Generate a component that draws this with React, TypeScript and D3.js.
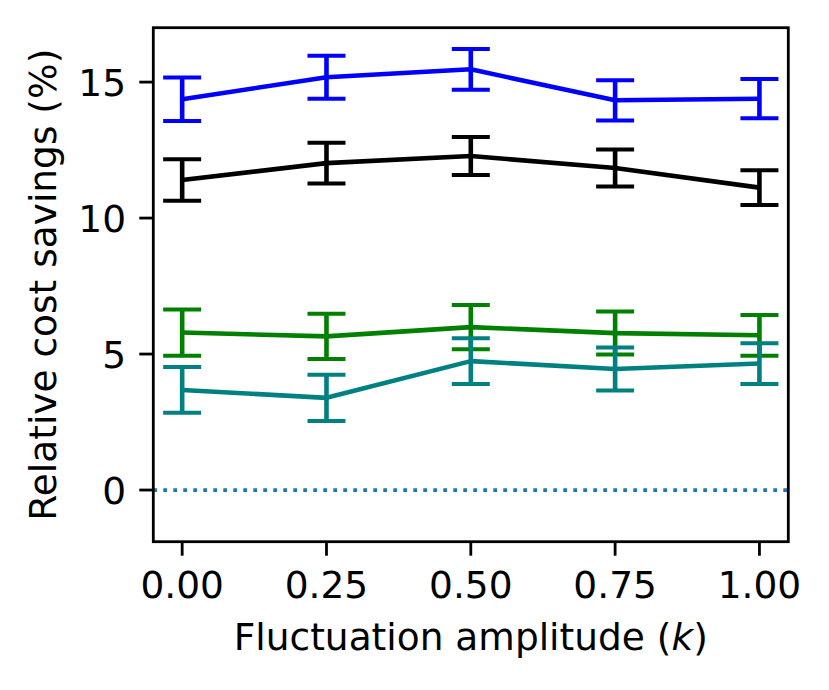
import React from 'react';
import * as d3 from 'd3';

const amplitudes = [0, 0.25, 0.5, 0.75, 1.0];

const blueMean = [14.37, 15.18, 15.47, 14.33, 14.39];
const blueErr = [0.8, 0.79, 0.75, 0.74, 0.72];
const blackMean = [11.4, 12.02, 12.28, 11.84, 11.12];
const blackErr = [0.76, 0.75, 0.7, 0.68, 0.64];
const greenMean = [5.79, 5.65, 5.99, 5.77, 5.69];
const greenErr = [0.85, 0.83, 0.81, 0.79, 0.75];
const tealMean = [3.68, 3.39, 4.74, 4.45, 4.65];
const tealErr = [0.84, 0.85, 0.84, 0.79, 0.75];

const xTicks = [0, 0.25, 0.5, 0.75, 1.0];
const yTicks = [0, 5, 10, 15];

const series = [
  { key: 'black', color: '#000000', mean: blackMean, err: blackErr },
  { key: 'blue', color: '#0000ff', mean: blueMean, err: blueErr },
  { key: 'green', color: '#008000', mean: greenMean, err: greenErr },
  { key: 'teal', color: '#008080', mean: tealMean, err: tealErr },
];

const W = 829;
const H = 690;
const plot = { left: 153.3, right: 788.3, top: 27.7, bottom: 541.7 };
const FONT = 'DejaVu Sans, sans-serif';
const FS = 37.5;

export default function App() {
  const x = d3.scaleLinear().domain([-0.05, 1.05]).range([plot.left, plot.right]);
  const y = d3.scaleLinear().domain([-1.9, 17]).range([plot.bottom, plot.top]);
  const line = d3
    .line<number>()
    .x((_d, i) => x(amplitudes[i]))
    .y((d) => y(d));
  const cap = 19;
  const tickLen = 14;

  return (
    <svg
      width={W}
      height={H}
      style={{ position: 'absolute', left: 0, top: 0, background: '#fff' }}
      fontFamily={FONT}
    >
      <rect x={0} y={0} width={W} height={H} fill="#fff" />

      {/* zero reference line */}
      <line
        x1={plot.left}
        x2={plot.right}
        y1={y(0)}
        y2={y(0)}
        stroke="#1f77b4"
        strokeWidth={3.8}
        strokeDasharray="3.8 6.2"
      />

      {series.map((s) => (
        <g key={s.key}>
          <path
            d={line(s.mean) ?? ''}
            fill="none"
            stroke={s.color}
            strokeWidth={4.6}
            strokeLinejoin="round"
          />
          {s.mean.map((m, i) => {
            const cx = x(amplitudes[i]);
            const hi = y(m + s.err[i]);
            const lo = y(m - s.err[i]);
            return (
              <g key={i} stroke={s.color}>
                <line x1={cx} x2={cx} y1={hi} y2={lo} strokeWidth={4.6} />
                <line x1={cx - cap} x2={cx + cap} y1={hi} y2={hi} strokeWidth={4} />
                <line x1={cx - cap} x2={cx + cap} y1={lo} y2={lo} strokeWidth={4} />
              </g>
            );
          })}
        </g>
      ))}

      {/* frame */}
      <rect
        x={plot.left}
        y={plot.top}
        width={plot.right - plot.left}
        height={plot.bottom - plot.top}
        fill="none"
        stroke="#000"
        strokeWidth={2.8}
      />

      {/* x axis ticks */}
      {xTicks.map((t) => (
        <g key={t}>
          <line
            x1={x(t)}
            x2={x(t)}
            y1={plot.bottom}
            y2={plot.bottom + tickLen}
            stroke="#000"
            strokeWidth={2.8}
          />
          <text x={x(t)} y={598} textAnchor="middle" fontSize={FS} fill="#000">
            {t.toFixed(2)}
          </text>
        </g>
      ))}

      {/* y axis ticks */}
      {yTicks.map((t) => (
        <g key={t}>
          <line
            x1={plot.left - tickLen}
            x2={plot.left}
            y1={y(t)}
            y2={y(t)}
            stroke="#000"
            strokeWidth={2.8}
          />
          <text x={126} y={y(t) + 13.5} textAnchor="end" fontSize={FS} fill="#000">
            {t}
          </text>
        </g>
      ))}

      <text
        x={(plot.left + plot.right) / 2}
        y={650}
        textAnchor="middle"
        fontSize={FS}
        fill="#000"
      >
        Fluctuation amplitude (<tspan fontStyle="italic">k</tspan>)
      </text>

      <text
        transform={`translate(55.5, ${(plot.top + plot.bottom) / 2}) rotate(-90)`}
        textAnchor="middle"
        fontSize={FS}
        fill="#000"
      >
        Relative cost savings (%)
      </text>
    </svg>
  );
}
